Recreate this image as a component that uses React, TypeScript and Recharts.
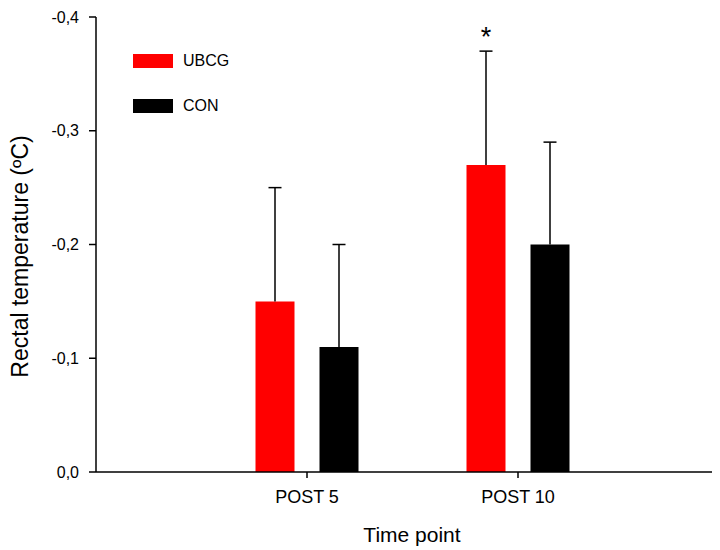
import React from "react"
import { BarChart, Bar, XAxis, YAxis, Legend, LabelList, Label } from "recharts"

const categories = ["POST 5", "POST 10"]
const ubcgMean = [-0.15, -0.27]
const ubcgSd = [0.1, 0.1]
const conMean = [-0.11, -0.2]
const conSd = [0.09, 0.09]
const significance = ["", "*"]
const yTicks = [-0.4, -0.3, -0.2, -0.1, 0]

const FONT = "'Liberation Sans', Arial, sans-serif"

// error part is stacked on top of each bar so it only goes one way
const data = categories.map((time, i) => ({
  time,
  ubcg: ubcgMean[i],
  ubcgErr: -ubcgSd[i],
  con: conMean[i],
  conErr: -conSd[i],
  sig: significance[i],
}))

function ErrorWhisker(props: any) {
  const { x, y, width, height } = props
  const top = Math.min(y, y + height)
  const bottom = Math.max(y, y + height)
  const cx = x + width / 2
  return (
    <g>
      <line x1={cx} y1={bottom} x2={cx} y2={top} stroke="#000" strokeWidth={1.5} />
      <line x1={cx - 6.5} y1={top} x2={cx + 6.5} y2={top} stroke="#000" strokeWidth={1.5} />
    </g>
  )
}

function SigMark(props: any) {
  const { x, y, width, height, value } = props
  if (!value) return null
  const top = Math.min(y, y + height)
  return (
    <text x={x + width / 2} y={top - 5} textAnchor="middle" fontSize={27} fontFamily={FONT} fill="#000">
      {value}
    </text>
  )
}

function LegendBox() {
  const items = [
    { name: "UBCG", color: "#ff0000" },
    { name: "CON", color: "#000000" },
  ]
  return (
    <div style={{ fontFamily: FONT, fontSize: 16, color: "#000" }}>
      {items.map((it) => (
        <div key={it.name} style={{ display: "flex", alignItems: "center", height: 14, marginBottom: 31 }}>
          <div style={{ width: 40, height: 14, background: it.color, marginRight: 10 }} />
          <span>{it.name}</span>
        </div>
      ))}
    </div>
  )
}

function YTitle(props: any) {
  const { viewBox } = props
  const cy = viewBox.y + viewBox.height / 2 + 12
  return (
    <text transform={`translate(28, ${cy}) rotate(-90)`} textAnchor="middle" fontSize={23} fontFamily={FONT} fill="#000">
      Rectal temperature (ºC)
    </text>
  )
}

function XTitle(props: any) {
  const { viewBox } = props
  const cx = viewBox.x + viewBox.width / 2 + 8
  return (
    <text x={cx} y={542} textAnchor="middle" fontSize={21} fontFamily={FONT} fill="#000">
      Time point
    </text>
  )
}

export default function App() {
  return (
    <div style={{ position: "absolute", left: 0, top: 0, background: "#fff" }}>
      <BarChart
        width={720}
        height={550}
        data={data}
        margin={{ top: 17, right: 8, left: 0, bottom: 48 }}
        barSize={39}
        barGap={25}
      >
        <XAxis
          dataKey="time"
          padding={{ left: 105.5, right: 88.5 }}
          height={30}
          tickSize={6}
          tickMargin={12}
          tick={{ fontSize: 18, fill: "#000", fontFamily: FONT }}
          axisLine={{ stroke: "#000", strokeWidth: 1.5 }}
          tickLine={{ stroke: "#000", strokeWidth: 1.5 }}
        >
          <Label content={<XTitle />} />
        </XAxis>
        <YAxis
          width={96}
          reversed
          domain={[-0.4, 0]}
          ticks={yTicks}
          allowDataOverflow
          tickSize={7}
          tickMargin={10}
          tickFormatter={(v: number) => v.toFixed(1).replace(".", ",")}
          tick={{ fontSize: 16, fill: "#000", fontFamily: FONT }}
          axisLine={{ stroke: "#000", strokeWidth: 1.5 }}
          tickLine={{ stroke: "#000", strokeWidth: 1.5 }}
        >
          <Label content={<YTitle />} />
        </YAxis>
        <Legend
          layout="horizontal"
          verticalAlign="middle"
          content={<LegendBox />}
          wrapperStyle={{ position: "absolute", top: 54, left: 133, width: "auto" }}
        />
        <Bar dataKey="ubcg" stackId="u" fill="#ff0000" isAnimationActive={false} />
        <Bar dataKey="ubcgErr" stackId="u" shape={<ErrorWhisker />} isAnimationActive={false}>
          <LabelList dataKey="sig" content={<SigMark />} />
        </Bar>
        <Bar dataKey="con" stackId="c" fill="#000000" isAnimationActive={false} />
        <Bar dataKey="conErr" stackId="c" shape={<ErrorWhisker />} isAnimationActive={false} />
      </BarChart>
    </div>
  )
}
